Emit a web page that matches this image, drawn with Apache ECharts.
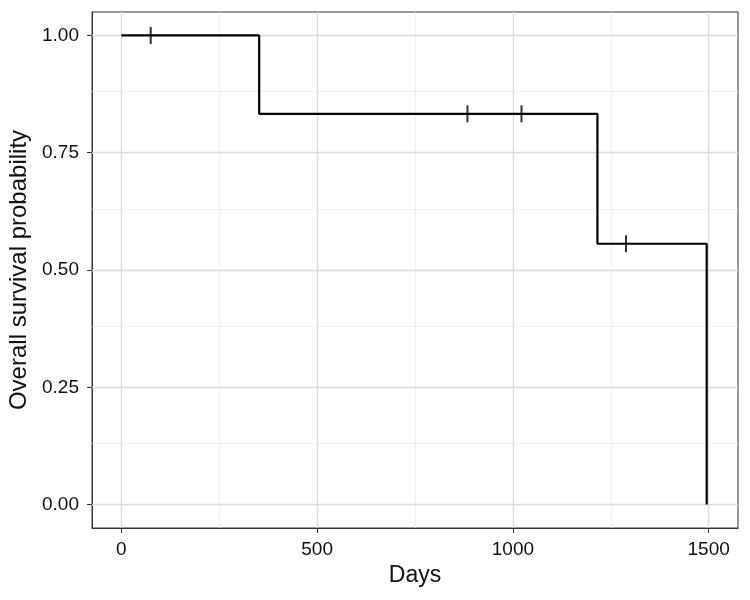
<!DOCTYPE html>
<html>
<head>
<meta charset="utf-8">
<script src="https://cdn.jsdelivr.net/npm/echarts@6/dist/echarts.min.js"></script>
<style>
  html, body { margin: 0; padding: 0; background: #fff; }
  #chart { width: 750px; height: 600px; }
</style>
</head>
<body>
<div id="chart"></div>
<script>
// survival curve steps (days, probability after step)
const stepDays = [0, 352, 1216, 1495];
const stepSurv = [1, 0.833, 0.556, 0];
// censored observations
const censorDays = [75, 884, 1022, 1289];
const censorSurv = [1, 0.833, 0.833, 0.556];
// axis ticks
const xTicks = [0, 500, 1000, 1500];
const xMinor = [250, 750, 1250];
const yTicks = [0, 0.25, 0.5, 0.75, 1];
const yMinor = [0.125, 0.375, 0.625, 0.875];

const font = 'Liberation Sans, Arial, sans-serif';
const txt = '#111';

const gridLines = [];
xTicks.forEach(v => gridLines.push({ xAxis: v, lineStyle: { color: '#dadada', width: 1.3, type: 'solid' } }));
xMinor.forEach(v => gridLines.push({ xAxis: v, lineStyle: { color: '#ebebeb', width: 0.8, type: 'solid' } }));
yTicks.forEach(v => gridLines.push({ yAxis: v, lineStyle: { color: '#dadada', width: 1.3, type: 'solid' } }));
yMinor.forEach(v => gridLines.push({ yAxis: v, lineStyle: { color: '#ebebeb', width: 0.8, type: 'solid' } }));

const chart = echarts.init(document.getElementById('chart'));
chart.setOption({
  animation: false,
  grid: {
    left: 92, right: 12, top: 12, bottom: 72,
    outerBoundsMode: 'none', containLabel: false,
    show: true, borderColor: '#333', borderWidth: 1, backgroundColor: 'transparent'
  },
  xAxis: {
    type: 'value', min: -75, max: 1575,
    name: 'Days', nameLocation: 'middle', nameGap: 35,
    nameTextStyle: { fontFamily: font, fontSize: 23, color: txt },
    axisLine: { show: true, onZero: false, lineStyle: { color: '#333', width: 1 } },
    axisTick: { show: true, customValues: xTicks, length: 5, lineStyle: { color: '#333', width: 1 } },
    axisLabel: { customValues: xTicks, fontFamily: font, fontSize: 19, color: txt, margin: 12,
      formatter: v => String(v) },
    splitLine: { show: false }
  },
  yAxis: {
    type: 'value', min: -0.05, max: 1.05,
    name: 'Overall survival probability', nameLocation: 'middle', nameGap: 55, nameRotate: 90,
    nameTextStyle: { fontFamily: font, fontSize: 24, color: txt },
    axisLine: { show: true, onZero: false, lineStyle: { color: '#333', width: 1 } },
    axisTick: { show: true, customValues: yTicks, length: 5, lineStyle: { color: '#333', width: 1 } },
    axisLabel: { customValues: yTicks, fontFamily: font, fontSize: 19, color: txt, margin: 13,
      formatter: v => v.toFixed(2) },
    splitLine: { show: false }
  },
  series: [
    {
      type: 'line', data: [], z: 1, silent: true,
      markLine: { silent: true, z: 1, symbol: 'none', label: { show: false }, animation: false, data: gridLines }
    },
    {
      type: 'line', step: 'end', z: 3, showSymbol: false,
      data: stepDays.map((d, i) => [d, stepSurv[i]]),
      lineStyle: { color: '#000', width: 2.2 }
    },
    {
      type: 'scatter', z: 4, symbol: 'rect', symbolSize: [2, 17],
      itemStyle: { color: '#000' },
      data: censorDays.map((d, i) => [d, censorSurv[i]])
    }
  ]
});
</script>
</body>
</html>
